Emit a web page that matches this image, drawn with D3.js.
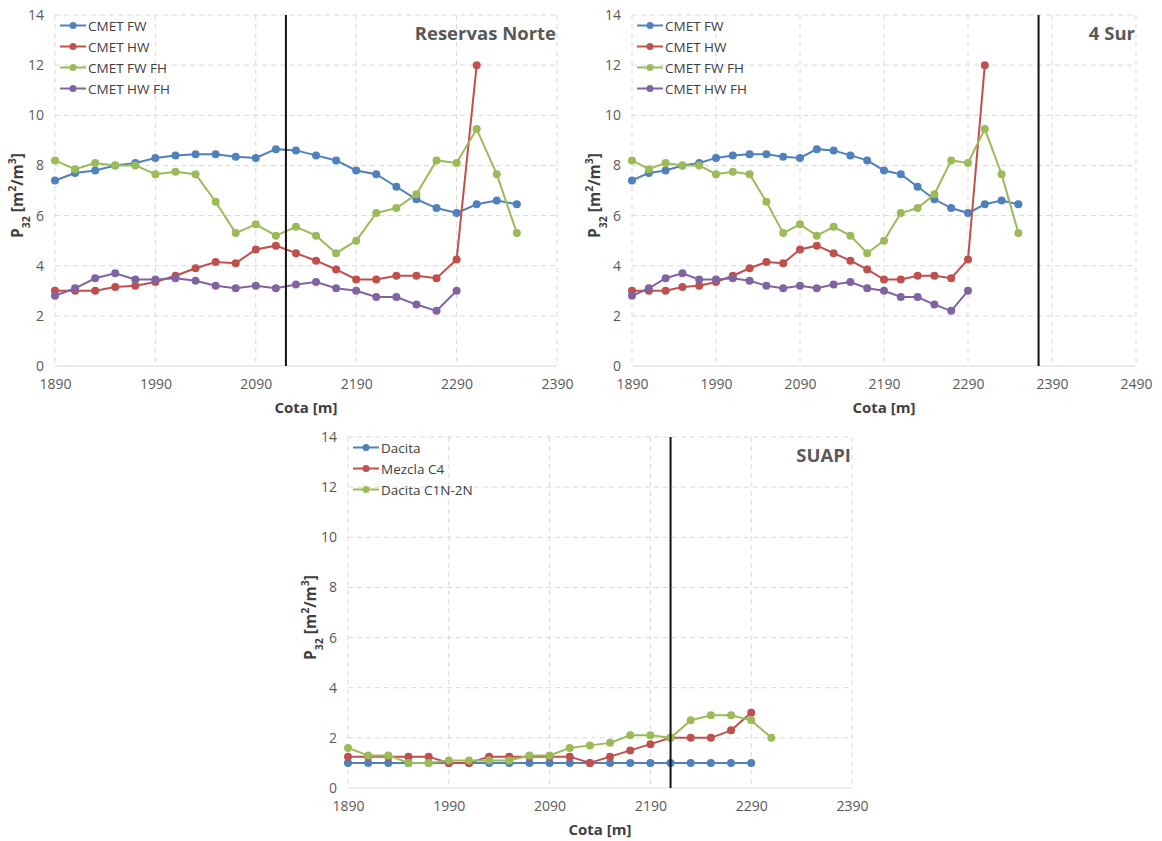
<!DOCTYPE html>
<html>
<head>
<meta charset="utf-8">
<script src="https://cdn.jsdelivr.net/npm/d3@7"></script>
<style>
  html, body { margin: 0; padding: 0; background: #fff; }
  svg { display: block; font-family: "Open Sans", "Liberation Sans", sans-serif; }
</style>
</head>
<body>
<svg id="chart" width="1162" height="841"></svg>
<script>
// Elevations (m), sampled every 20 m
const cotaCMET = [1890,1910,1930,1950,1970,1990,2010,2030,2050,2070,2090,2110,2130,2150,2170,2190,2210,2230,2250,2270,2290,2310,2330,2350];

// P32 values for the CMET sectors
const cmetFW   = [7.4,7.7,7.8,8.0,8.1,8.3,8.4,8.45,8.45,8.35,8.3,8.65,8.6,8.4,8.2,7.8,7.65,7.15,6.65,6.3,6.1,6.45,6.6,6.45];
const cmetHW   = [3.0,3.0,3.0,3.15,3.2,3.35,3.6,3.9,4.15,4.1,4.65,4.8,4.5,4.2,3.85,3.45,3.45,3.6,3.6,3.5,4.25,12.0];
const cmetFWFH = [8.2,7.85,8.1,8.0,8.0,7.65,7.75,7.65,6.55,5.3,5.65,5.2,5.55,5.2,4.5,5.0,6.1,6.3,6.85,8.2,8.1,9.45,7.65,5.3];
const cmetHWFH = [2.8,3.1,3.5,3.7,3.45,3.45,3.5,3.4,3.2,3.1,3.2,3.1,3.25,3.35,3.1,3.0,2.75,2.75,2.45,2.2,3.0];

// P32 values for SUAPI
const cotaSUAPI = [1890,1910,1930,1950,1970,1990,2010,2030,2050,2070,2090,2110,2130,2150,2170,2190,2210,2230,2250,2270,2290,2310];
const dacita      = [1,1,1,1,1,1,1,1,1,1,1,1,1,1,1,1,1,1,1,1,1];
const mezclaC4    = [1.25,1.25,1.25,1.25,1.25,1.0,1.0,1.25,1.25,1.25,1.25,1.25,1.0,1.25,1.5,1.75,2.0,2.0,2.0,2.3,3.0];
const dacitaC1N2N = [1.6,1.3,1.3,1.0,1.0,1.1,1.1,1.1,1.1,1.3,1.3,1.6,1.7,1.8,2.1,2.1,2.0,2.7,2.9,2.9,2.7,2.0];

const yTicks = [0,2,4,6,8,10,12,14];
const xTicksA = [1890,1990,2090,2190,2290,2390];
const xTicksB = [1890,1990,2090,2190,2290,2390,2490];

const C_BLUE = "#4F81BD", C_RED = "#C0504D", C_GREEN = "#9BBB59", C_PURPLE = "#8064A2";

const cmetSeries = [
  { name: "CMET FW",    color: C_BLUE,   values: cmetFW },
  { name: "CMET HW",    color: C_RED,    values: cmetHW },
  { name: "CMET FW FH", color: C_GREEN,  values: cmetFWFH },
  { name: "CMET HW FH", color: C_PURPLE, values: cmetHWFH }
];
const suapiSeries = [
  { name: "Dacita",        color: C_BLUE,  values: dacita },
  { name: "Mezcla C4",     color: C_RED,   values: mezclaC4 },
  { name: "Dacita C1N-2N", color: C_GREEN, values: dacitaC1N2N }
];

const svg = d3.select("#chart");

function panel(opts) {
  const { left, right, top, bottom, xDomain, xTicks, cota, series, marker, title } = opts;
  const g = svg.append("g");
  const x = d3.scaleLinear().domain(xDomain).range([left, right]);
  const y = d3.scaleLinear().domain([0, 14]).range([bottom, top]);

  // dashed grid
  g.append("g").selectAll("line").data(yTicks.filter(d => d > 0)).join("line")
    .attr("x1", left).attr("x2", right)
    .attr("y1", d => y(d)).attr("y2", d => y(d))
    .attr("stroke", "#d9d9d9").attr("stroke-width", 1).attr("stroke-dasharray", "5,4");
  g.append("g").selectAll("line").data(xTicks).join("line")
    .attr("x1", d => x(d)).attr("x2", d => x(d))
    .attr("y1", top).attr("y2", bottom)
    .attr("stroke", "#d9d9d9").attr("stroke-width", 1).attr("stroke-dasharray", "5,4");
  g.append("line").attr("x1", left).attr("x2", right).attr("y1", bottom).attr("y2", bottom)
    .attr("stroke", "#d9d9d9").attr("stroke-width", 1);

  // axes (labels only)
  const yAxis = g.append("g").attr("transform", `translate(${left},0)`)
    .call(d3.axisLeft(y).tickValues(yTicks).tickSize(0).tickPadding(11));
  const xAxis = g.append("g").attr("transform", `translate(0,${bottom})`)
    .call(d3.axisBottom(x).tickValues(xTicks).tickSize(0).tickPadding(13).tickFormat(d3.format("d")));
  [yAxis, xAxis].forEach(a => {
    a.select(".domain").remove();
    a.selectAll("text").attr("fill", "#595959").style("font-size", "14px")
      .style("font-family", "'Open Sans', sans-serif");
  });

  // axis titles
  g.append("text").attr("x", (left + right) / 2).attr("y", bottom + 47)
    .attr("text-anchor", "middle").attr("fill", "#404040")
    .style("font-size", "15px").style("font-weight", "bold").text("Cota [m]");
  const yt = g.append("text")
    .attr("transform", `translate(${left - 32},${(top + bottom) / 2 + 5}) rotate(-90)`)
    .attr("text-anchor", "middle").attr("fill", "#404040")
    .style("font-size", "15.5px").style("font-weight", "bold");
  yt.append("tspan").text("P");
  yt.append("tspan").attr("baseline-shift", "sub").style("font-size", "10.5px").text("32");
  yt.append("tspan").text(" [m");
  yt.append("tspan").attr("baseline-shift", "super").style("font-size", "10.5px").text("2");
  yt.append("tspan").text("/m");
  yt.append("tspan").attr("baseline-shift", "super").style("font-size", "10.5px").text("3");
  yt.append("tspan").text("]");

  // series
  const line = d3.line().x((d, i) => x(cota[i])).y(d => y(d));
  series.forEach(s => {
    const sg = g.append("g");
    sg.append("path").datum(s.values).attr("d", line)
      .attr("fill", "none").attr("stroke", s.color).attr("stroke-width", 2);
    sg.selectAll("circle").data(s.values).join("circle")
      .attr("cx", (d, i) => x(cota[i])).attr("cy", d => y(d)).attr("r", 4)
      .attr("fill", s.color);
  });

  // marker line
  g.append("line").attr("x1", x(marker)).attr("x2", x(marker))
    .attr("y1", top).attr("y2", bottom)
    .attr("stroke", "#111").attr("stroke-width", 2);

  // legend
  const lg = g.append("g");
  series.forEach((s, i) => {
    const ly = top + 10.5 + i * 21;
    lg.append("line").attr("x1", left + 5).attr("x2", left + 31).attr("y1", ly).attr("y2", ly)
      .attr("stroke", s.color).attr("stroke-width", 2);
    lg.append("circle").attr("cx", left + 18).attr("cy", ly).attr("r", 3.5).attr("fill", s.color);
    lg.append("text").attr("x", left + 33).attr("y", ly + 5).attr("fill", "#404040")
      .style("font-size", "13.5px").text(s.name);
  });

  // title
  g.append("text").attr("x", right - 1).attr("y", top + 25).attr("text-anchor", "end")
    .attr("fill", "#595959").style("font-size", "18.5px").style("font-weight", "bold").text(title);
}

panel({ left: 55, right: 557, top: 15, bottom: 366, xDomain: [1890, 2390], xTicks: xTicksA,
        cota: cotaCMET, series: cmetSeries, marker: 2120, title: "Reservas Norte" });
panel({ left: 632, right: 1136, top: 15, bottom: 366, xDomain: [1890, 2490], xTicks: xTicksB,
        cota: cotaCMET, series: cmetSeries, marker: 2374, title: "4 Sur" });
panel({ left: 348, right: 852, top: 437, bottom: 788, xDomain: [1890, 2390], xTicks: xTicksA,
        cota: cotaSUAPI, series: suapiSeries, marker: 2210, title: "SUAPI" });
</script>
</body>
</html>
